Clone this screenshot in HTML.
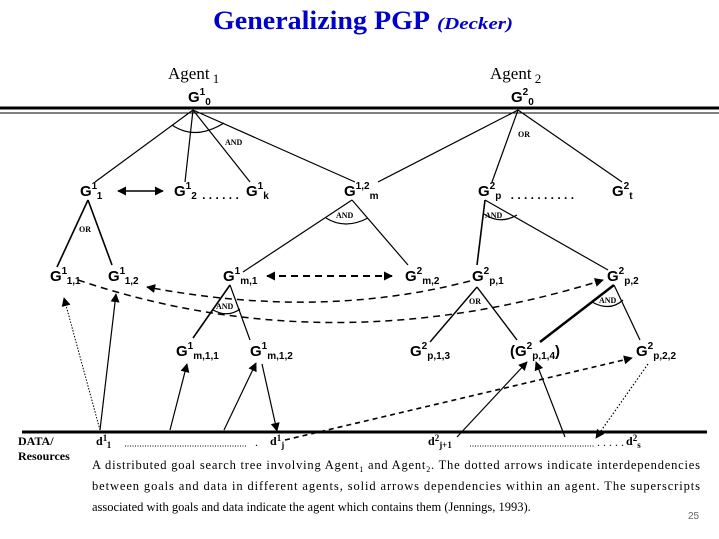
<!DOCTYPE html>
<html><head><meta charset="utf-8"><style>
html,body{margin:0;padding:0;background:#fff;}
svg{display:block;}
.n{font-family:"Liberation Sans",sans-serif;font-weight:bold;font-size:15px;fill:#000;}
.s{font-size:10px;}
.lab{font-family:"Liberation Serif",serif;font-weight:bold;font-size:8px;}
.cap{font-family:"Liberation Serif",serif;font-size:12.5px;}
</style></head><body>
<svg width="719" height="539" viewBox="0 0 719 539" xmlns="http://www.w3.org/2000/svg">
<defs>
<marker id="a" viewBox="0 0 10 10" refX="9" refY="5" markerWidth="9" markerHeight="9" markerUnits="userSpaceOnUse" orient="auto-start-reverse"><path d="M0,0 L10,5 L0,10 z" fill="#000"/></marker>
</defs>
<text x="213" y="29" font-family="Liberation Serif,serif" font-weight="bold" font-size="26" fill="#0000cc" textLength="217" lengthAdjust="spacingAndGlyphs">Generalizing PGP</text>
<text x="437" y="29" font-family="Liberation Serif,serif" font-weight="bold" font-style="italic" font-size="17" fill="#0000cc" textLength="76" lengthAdjust="spacingAndGlyphs">(Decker)</text>
<text x="168" y="79" font-family="Liberation Serif,serif" font-size="17">Agent<tspan dy="4" font-size="13"> 1</tspan></text>
<text x="490" y="79" font-family="Liberation Serif,serif" font-size="17">Agent<tspan dy="4" font-size="13"> 2</tspan></text>
<line x1="0" y1="108" x2="719" y2="108" stroke="#000" stroke-width="3"/>
<line x1="0" y1="113" x2="719" y2="113" stroke="#000" stroke-width="1"/>
<line x1="22" y1="432" x2="707" y2="432" stroke="#000" stroke-width="3"/>
<g stroke="#000" stroke-width="1.2" fill="none">
<line x1="193" y1="110" x2="95" y2="182"/><line x1="193" y1="110" x2="185" y2="182"/>
<line x1="193" y1="110" x2="250" y2="182"/><line x1="193" y1="110" x2="355" y2="182"/>
<path d="M172,125 Q195,141 224,123"/>
<line x1="518" y1="110" x2="378" y2="182"/><line x1="518" y1="110" x2="492" y2="182"/><line x1="518" y1="110" x2="622" y2="182"/>
<line x1="88" y1="200" x2="57" y2="267" stroke-width="1.6"/><line x1="88" y1="200" x2="112" y2="265" stroke-width="1.6"/>
<line x1="352" y1="200" x2="243" y2="272"/><line x1="352" y1="200" x2="408" y2="265"/>
<path d="M326,218 Q345,230 368,218"/>
<line x1="485" y1="200" x2="477" y2="265" stroke-width="1.6"/><line x1="485" y1="200" x2="608" y2="270"/>
<path d="M484,214 Q500,225 517,215"/>
<line x1="230" y1="285" x2="193" y2="338" stroke-width="1.6"/><line x1="230" y1="285" x2="250" y2="340"/>
<path d="M213,310 Q228,318 240,309"/>
<line x1="477" y1="287" x2="430" y2="342" stroke-width="1.4"/><line x1="477" y1="287" x2="517" y2="340" stroke-width="1.4"/>
<line x1="614" y1="285" x2="540" y2="342" stroke-width="2.5"/><line x1="614" y1="285" x2="640" y2="340"/>
<path d="M592,302 Q610,312 623,300"/>
<line x1="118" y1="191" x2="163" y2="191" stroke-width="1.6" marker-start="url(#a)" marker-end="url(#a)"/>
<line x1="267" y1="276" x2="392" y2="276" stroke-width="2" stroke-dasharray="7,5" marker-start="url(#a)" marker-end="url(#a)"/>
<path d="M470,281 Q320,320 147,287" stroke-width="1.5" stroke-dasharray="7,5" marker-end="url(#a)"/>
<path d="M78,280 Q330,365 603,280" stroke-width="1.5" stroke-dasharray="7,5" marker-end="url(#a)"/>
<line x1="100" y1="430" x2="64" y2="298" stroke-dasharray="1.5,1.5" stroke-width="1" marker-end="url(#a)"/>
<line x1="100" y1="430" x2="116" y2="294" marker-end="url(#a)"/>
<line x1="170" y1="430" x2="187" y2="364" marker-end="url(#a)"/>
<line x1="224" y1="430" x2="256" y2="363" marker-end="url(#a)"/>
<line x1="262" y1="364" x2="277" y2="431" marker-end="url(#a)"/>
<line x1="285" y1="440" x2="632" y2="358" stroke-width="1.6" stroke-dasharray="5,4" marker-end="url(#a)"/>
<line x1="457" y1="437" x2="527" y2="362" marker-end="url(#a)"/>
<line x1="565" y1="437" x2="536" y2="362" marker-end="url(#a)"/>
<line x1="648" y1="364" x2="596" y2="438" stroke-dasharray="1.5,2" marker-end="url(#a)"/>
</g>
<text class="lab" x="225" y="145">AND</text>
<text class="lab" x="518" y="137">OR</text>
<text class="lab" x="79" y="232">OR</text>
<text class="lab" x="336" y="218">AND</text>
<text class="lab" x="485" y="218">AND</text>
<text class="lab" x="216" y="309">AND</text>
<text class="lab" x="469" y="304">OR</text>
<text class="lab" x="599" y="303">AND</text>
<g class="n">
<text x="188" y="102">G<tspan class="s" dy="-7">1</tspan><tspan class="s" dy="10">0</tspan></text>
<text x="511" y="102">G<tspan class="s" dy="-7">2</tspan><tspan class="s" dy="10">0</tspan></text>
<text x="80" y="196">G<tspan class="s" dy="-7">1</tspan><tspan class="s" dy="10">1</tspan></text>
<text x="174" y="196">G<tspan class="s" dy="-7">1</tspan><tspan class="s" dy="10">2</tspan><tspan dx="2" font-size="12"> . . . . . .</tspan></text>
<text x="246" y="196">G<tspan class="s" dy="-7">1</tspan><tspan class="s" dy="10">k</tspan></text>
<text x="344" y="196">G<tspan class="s" dy="-7">1,2</tspan><tspan class="s" dy="10">m</tspan></text>
<text x="478" y="196">G<tspan class="s" dy="-7">2</tspan><tspan class="s" dy="10">p</tspan><tspan dx="6" font-size="12"> . . . . . . . . . .</tspan></text>
<text x="612" y="196">G<tspan class="s" dy="-7">2</tspan><tspan class="s" dy="10">t</tspan></text>
<text x="50" y="281">G<tspan class="s" dy="-7">1</tspan><tspan class="s" dy="10">1,1</tspan></text>
<text x="108" y="281">G<tspan class="s" dy="-7">1</tspan><tspan class="s" dy="10">1,2</tspan></text>
<text x="223" y="281">G<tspan class="s" dy="-7">1</tspan><tspan class="s" dy="10">m,1</tspan></text>
<text x="405" y="281">G<tspan class="s" dy="-7">2</tspan><tspan class="s" dy="10">m,2</tspan></text>
<text x="472" y="281">G<tspan class="s" dy="-7">2</tspan><tspan class="s" dy="10">p,1</tspan></text>
<text x="607" y="281">G<tspan class="s" dy="-7">2</tspan><tspan class="s" dy="10">p,2</tspan></text>
<text x="176" y="356">G<tspan class="s" dy="-7">1</tspan><tspan class="s" dy="10">m,1,1</tspan></text>
<text x="250" y="356">G<tspan class="s" dy="-7">1</tspan><tspan class="s" dy="10">m,1,2</tspan></text>
<text x="410" y="356">G<tspan class="s" dy="-7">2</tspan><tspan class="s" dy="10">p,1,3</tspan></text>
<text x="510" y="356">(G<tspan class="s" dy="-7">2</tspan><tspan class="s" dy="10">p,1,4</tspan><tspan dy="-3">)</tspan></text>
<text x="636" y="356">G<tspan class="s" dy="-7">2</tspan><tspan class="s" dy="10">p,2,2</tspan></text>
</g>
<g font-family="Liberation Serif,serif" font-weight="bold" font-size="12">
<text x="18" y="445">DATA/</text>
<text x="18" y="460">Resources</text>
<text x="96" y="445">d<tspan font-size="9" dy="-4">1</tspan><tspan font-size="9" dy="7">1</tspan></text>
<text x="270" y="445">d<tspan font-size="9" dy="-4">1</tspan><tspan font-size="9" dy="7">j</tspan></text>
<text x="428" y="445">d<tspan font-size="9" dy="-4">2</tspan><tspan font-size="9" dy="7">j+1</tspan></text>
<text x="626" y="445">d<tspan font-size="9" dy="-4">2</tspan><tspan font-size="9" dy="7">s</tspan></text>
</g>
<line x1="125" y1="446" x2="246" y2="446" stroke="#000" stroke-dasharray="1,1.5"/>
<text x="255" y="446" font-size="12" font-family="Liberation Serif,serif">.</text>
<line x1="470" y1="446" x2="595" y2="446" stroke="#000" stroke-dasharray="1,1.5"/>
<text x="597" y="446" font-size="12" font-family="Liberation Serif,serif">. . . . .</text>
<g class="cap">
<text x="92" y="469" textLength="608" lengthAdjust="spacing">A distributed goal search tree involving Agent<tspan font-size="8" dy="3">1</tspan><tspan dy="-3"> and Agent</tspan><tspan font-size="8" dy="3">2</tspan><tspan dy="-3">.  The dotted arrows indicate interdependencies</tspan></text>
<text x="92" y="490" textLength="608" lengthAdjust="spacing">between goals and data in different agents, solid arrows dependencies within an agent.  The superscripts</text>
<text x="92" y="511">associated with goals and data indicate the agent which contains them (Jennings, 1993).</text>
</g>
<text x="688" y="519" font-family="Liberation Sans,sans-serif" font-size="10" fill="#666">25</text>
</svg>
</body></html>
